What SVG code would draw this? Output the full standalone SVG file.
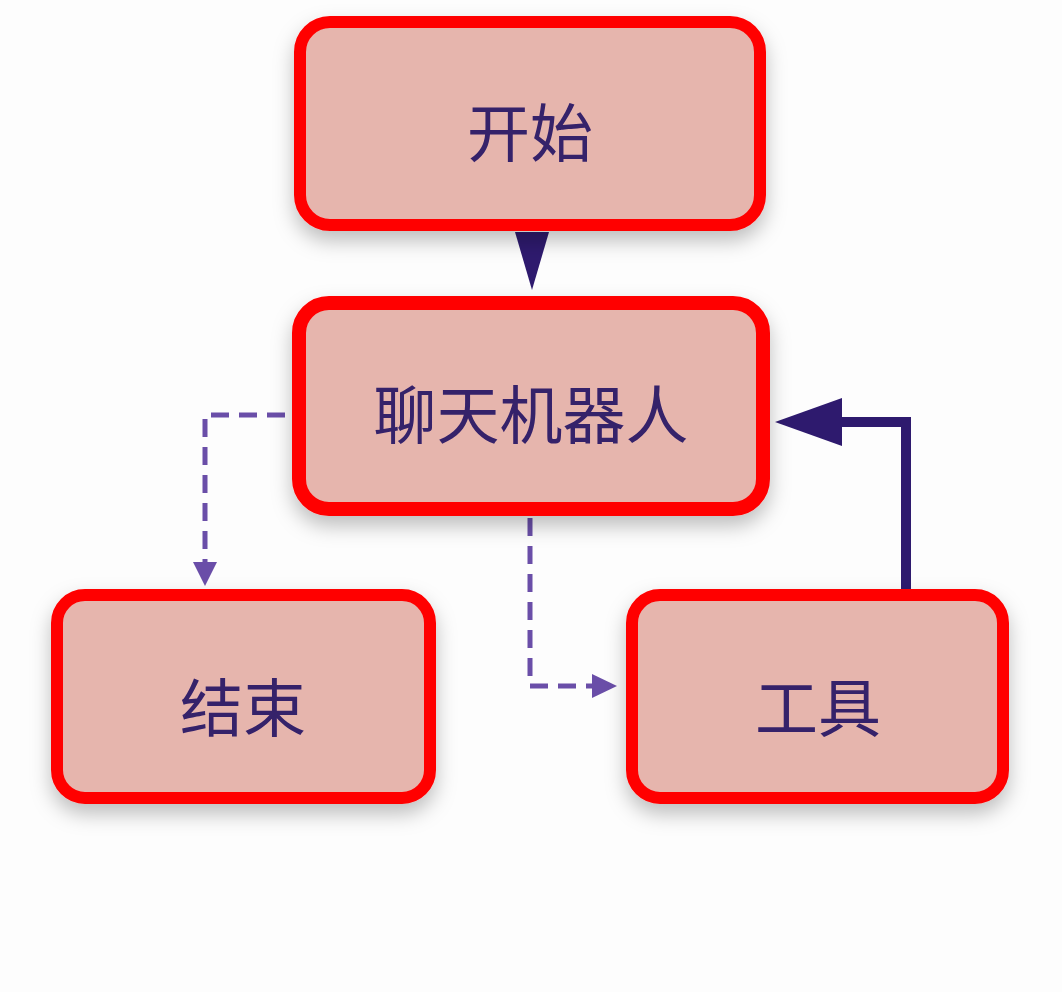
<svg xmlns="http://www.w3.org/2000/svg" width="1062" height="992" viewBox="0 0 1062 992">
<style>
.n rect{fill:#e6b5ad;stroke:#ff0000;stroke-width:12}
.n text{font-family:"Noto Sans CJK SC","Noto Sans",sans-serif;font-size:63px;fill:#34206a;text-anchor:middle;dominant-baseline:central}
.d{fill:none;stroke:#6a4ea8;stroke-width:5;stroke-dasharray:18 10}
.s{fill:none;stroke:#2e1a6e;stroke-width:10}
</style>
<defs>
<filter id="sh" x="-20%" y="-20%" width="140%" height="150%"><feDropShadow dx="0" dy="10" stdDeviation="10" flood-color="#000" flood-opacity="0.25"/></filter>
</defs>
<rect width="1062" height="992" fill="#fdfdfd"/>
<g id="connectors">
<path d="M515,232L549,232L532,290z" fill="#2e1a6e"/>
<path class="d" d="M285,415H205V565"/>
<path d="M193,562L217,562L205,586z" fill="#6a4ea8"/>
<path class="d" d="M530,518V686H594"/>
<path d="M592,674L617,686L592,698z" fill="#6a4ea8"/>
<path class="s" d="M906,590V422H830"/>
<path d="M842,398L842,446L775,422z" fill="#2e1a6e"/>
</g>
<g id="start" class="n" filter="url(#sh)"><rect x="300" y="22" width="460" height="203" rx="30"/><text x="530" y="128">开始</text></g>
<g id="chatbot" class="n" filter="url(#sh)"><rect x="299" y="303" width="464" height="206" rx="30" style="stroke-width:14"/><text x="531" y="410">聊天机器人</text></g>
<g id="end" class="n" filter="url(#sh)"><rect x="57" y="595" width="373" height="203" rx="28"/><text x="243" y="703">结束</text></g>
<g id="tool" class="n" filter="url(#sh)"><rect x="632" y="595" width="371" height="203" rx="28"/><text x="818" y="703">工具</text></g>
</svg>
